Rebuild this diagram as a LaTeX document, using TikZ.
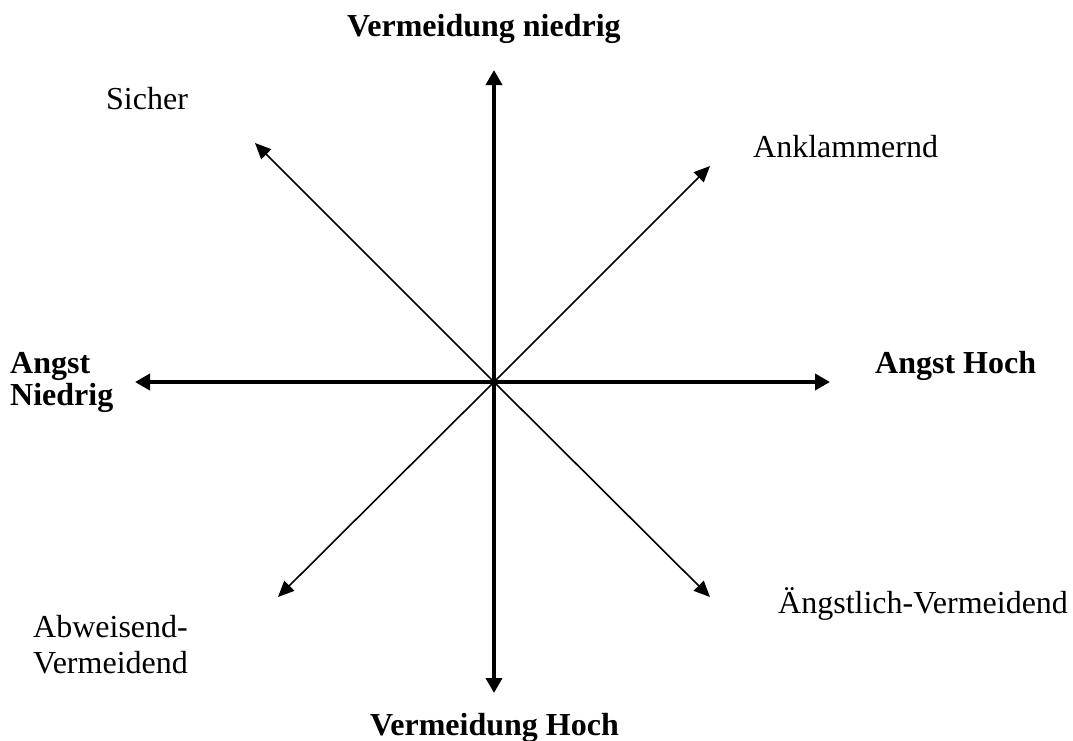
\documentclass[tikz,border=0pt]{standalone}
\usepackage{fontspec}
\setmainfont{Liberation Serif}
\usetikzlibrary{arrows.meta}
\begin{document}
\begin{tikzpicture}[x=1pt,y=-1pt,
  axis/.style={line width=4pt,-{Triangle[length=15pt,width=16pt]}},
  diag/.style={line width=1.6pt,-{Triangle[length=16pt,width=14pt]}},
  lbl/.style={anchor=base west,inner sep=0pt,font=\fontsize{32}{32}\selectfont},
  blbl/.style={lbl,font=\fontsize{32}{32}\selectfont\bfseries}]
\useasboundingbox (0,0) rectangle (1073,740);
\coordinate (c) at (494,382);
\coordinate (t) at (494,70);
\coordinate (b) at (494,693);
\coordinate (l) at (135,382);
\coordinate (r) at (830,382);
\coordinate (ul) at (255,143);
\coordinate (ur) at (710,166);
\coordinate (lr) at (710,597);
\coordinate (ll) at (278,597);
\draw[axis] (c) -- (t);
\draw[axis] (c) -- (b);
\draw[axis] (c) -- (l);
\draw[axis] (c) -- (r);
\draw[diag] (c) -- (ul);
\draw[diag] (c) -- (ur);
\draw[diag] (c) -- (lr);
\draw[diag] (c) -- (ll);
\node[blbl] (vn) at (347,36) {Vermeidung niedrig};
\node[blbl] (vh) at (370,735) {Vermeidung Hoch};
\node[blbl] (ah) at (875,373) {Angst Hoch};
\node[blbl,align=left] (an) at (10,405) {Angst\\Niedrig};
\node[lbl] (si) at (106,109) {Sicher};
\node[lbl] (ak) at (753,157) {Anklammernd};
\node[lbl] (av) at (778,613) {Ängstlich-Vermeidend};
\node[lbl,align=left] (ab) at (33,673) {Abweisend-\\[4pt]Vermeidend};
\end{tikzpicture}
\end{document}
